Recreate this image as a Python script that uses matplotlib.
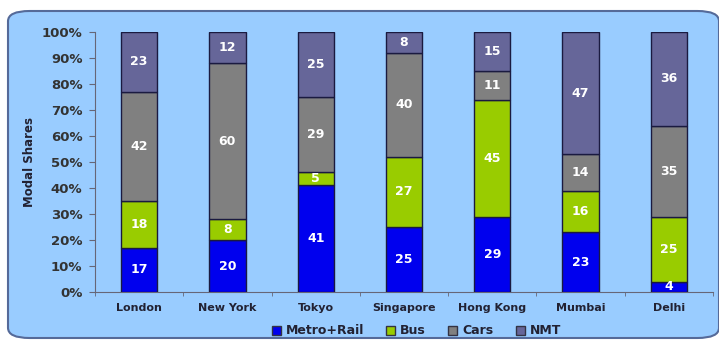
import numpy as np
import matplotlib.pyplot as plt
from matplotlib.patches import FancyBboxPatch
from matplotlib.ticker import FixedLocator

cities = ['London', 'New York', 'Tokyo', 'Singapore', 'Hong Kong', 'Mumbai', 'Delhi']
metro = [17, 20, 41, 25, 29, 23, 4]
bus = [18, 8, 5, 27, 45, 16, 25]
cars = [42, 60, 29, 40, 11, 14, 35]
nmt = [23, 12, 25, 8, 15, 47, 36]

series = [('Metro+Rail', metro, '#0000ee'),
          ('Bus', bus, '#99cc00'),
          ('Cars', cars, '#808080'),
          ('NMT', nmt, '#666699')]

plt.rcParams['font.family'] = ['DejaVu Sans']
plt.rcParams['font.weight'] = 'bold'

fig = plt.figure(figsize=(7.19, 3.41), dpi=100)

# light blue rounded panel behind the chart
panel = FancyBboxPatch((8 / 719, 3 / 341), 711 / 719, 327 / 341,
                       boxstyle='round,pad=0,rounding_size=0.03',
                       transform=fig.transFigure, facecolor='#99ccff',
                       edgecolor='#556a99', linewidth=1.5, zorder=-5)
fig.patches.append(panel)

ax = fig.add_axes([95 / 719, 49 / 341, 618 / 719, 260 / 341])
ax.set_facecolor('none')
ax.set_zorder(2)

x = np.arange(len(cities))
bottom = np.zeros(len(cities))
for name, vals, col in series:
    vals = np.array(vals)
    ax.bar(x, vals, 0.41, bottom=bottom, color=col, edgecolor='#1a1a40',
           linewidth=1.0, label=name, zorder=3)
    for xi, b, v in zip(x, bottom, vals):
        ax.text(xi, b + v / 2, str(v), ha='center', va='center',
                color='white', fontsize=9, fontweight='bold', zorder=4)
    bottom += vals

ax.set_xlim(-0.5, len(cities) - 0.5)
ax.set_ylim(0, 100)
ax.set_yticks(np.arange(0, 101, 10))
ax.set_yticklabels([f'{v}%' for v in range(0, 101, 10)], fontsize=9.5,
                   color='#333333', fontweight='bold')
ax.set_xticks(x)
ax.set_xticklabels(cities, fontsize=8, color='#222233', fontweight='bold')
ax.tick_params(axis='x', length=0, pad=8)
ax.xaxis.set_minor_locator(FixedLocator(np.arange(-0.5, len(cities), 1)))
ax.tick_params(axis='x', which='minor', length=3, color='#666677', direction='out')
ax.tick_params(axis='y', length=4, color='#666677', pad=5)

for s in ['top', 'right']:
    ax.spines[s].set_visible(False)
ax.spines['left'].set_color('#666677')
ax.spines['bottom'].set_color('#666677')

ax.set_ylabel('Modal Shares', fontsize=8.5, fontweight='bold', color='#222233',
              labelpad=4)

leg = ax.legend(loc='center', bbox_to_anchor=(0.52, -0.15), ncol=4,
                frameon=False, handlelength=0.7,
                handleheight=0.7, handletextpad=0.4, columnspacing=1.8,
                prop={'weight': 'bold', 'size': 9})
for h in leg.legend_handles:
    h.set_edgecolor('#333344')
for t in leg.get_texts():
    t.set_color('#222233')

fig.savefig('out.png', dpi=100)
